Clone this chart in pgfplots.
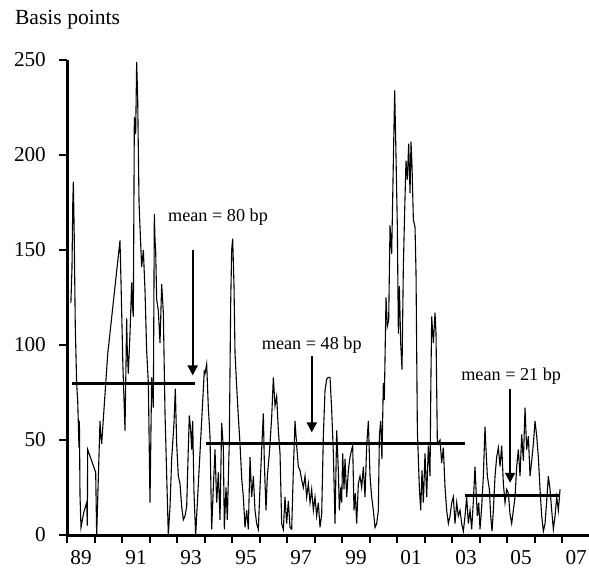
\documentclass[border=0pt]{standalone}
\usepackage{fontspec}
\setmainfont{Liberation Serif}
\usepackage{pgfplots}
\pgfplotsset{compat=1.18}
\usetikzlibrary{arrows.meta}
\begin{document}
\begin{tikzpicture}
\begin{axis}[
 scale only axis, width=260.85pt, height=237.5pt,
 xmin=1989, xmax=2007.97, ymin=0, ymax=250,
 axis lines=left, axis line style={line width=1.5pt,-},
 xtick={1989,1991,...,2007}, minor xtick={1990,1992,...,2006},
 xticklabels={89,91,93,95,97,99,01,03,05,07},
 xticklabel style={xshift=6.875pt},
 ytick={0,50,...,250},
 tick align=outside, major tick length=4pt, minor tick length=4pt,
 every tick/.style={black, line width=1pt},
 ticklabel style={font=\fontsize{10.6}{12}\selectfont},
 yticklabel style={xshift=-3.2pt},
 /pgf/number format/assume math mode=true,
 clip=false,
]
\addplot[black, line width=0.55pt] coordinates {
(1989.13,122) (1989.17,140) (1989.20,175) (1989.22,186) (1989.25,160) (1989.29,110)
(1989.34,80) (1989.38,70) (1989.425,46) (1989.44,60) (1989.462,21) (1989.498,4)
(1989.60,12) (1989.704,17) (1989.728,5) (1989.741,45) (1990.032,33) (1990.068,0)
(1990.189,60) (1990.22,52) (1990.25,48) (1990.468,95) (1990.916,155) (1990.953,133)
(1991.02,90) (1991.098,55) (1991.159,114) (1991.18,98) (1991.219,85) (1991.28,106)
(1991.341,133) (1991.37,120) (1991.401,115) (1991.438,220) (1991.486,211) (1991.522,249)
(1991.559,230) (1991.607,176) (1991.644,162) (1991.704,141) (1991.765,150) (1991.825,129)
(1991.886,97) (1991.947,80) (1992.007,17) (1992.068,83) (1992.128,67) (1992.165,169)
(1992.19,155) (1992.213,150) (1992.25,124) (1992.31,118) (1992.371,101) (1992.432,132)
(1992.492,117) (1992.553,64) (1992.673,0)
(1992.735,15) (1992.795,40) (1992.88,59) (1992.928,77) (1992.977,48) (1993.037,31)
(1993.098,27) (1993.159,15) (1993.219,8) (1993.28,10) (1993.341,15) (1993.401,46)
(1993.437,63) (1993.486,55) (1993.522,45) (1993.559,60) (1993.607,22) (1993.668,0)
(1993.98,86)
(1994.007,85) (1994.068,90) (1994.128,67) (1994.189,52) (1994.25,3) (1994.31,25)
(1994.371,45) (1994.432,17) (1994.492,33) (1994.553,8) (1994.613,59) (1994.674,46)
(1994.71,3) (1994.771,25) (1994.819,8) (1994.892,50) (1994.941,122) (1994.977,150)
(1995.013,156) (1995.062,131) (1995.098,96) (1995.159,78) (1995.22,62) (1995.28,48)
(1995.341,30) (1995.401,20) (1995.462,4) (1995.522,13) (1995.583,3) (1995.644,41)
(1995.704,20) (1995.765,31) (1995.825,13) (1995.886,6) (1995.947,3) (1996.007,25)
(1996.068,45) (1996.128,64) (1996.165,38) (1996.225,13) (1996.274,31) (1996.347,43)
(1996.432,62) (1996.492,83) (1996.553,68) (1996.613,73) (1996.674,55) (1996.735,43)
(1996.795,6) (1996.856,3) (1996.916,20) (1996.977,6) (1997.037,18) (1997.098,4)
(1997.159,3) (1997.219,34) (1997.28,60) (1997.341,47) (1997.401,36) (1997.462,34)
(1997.523,29) (1997.583,25) (1997.644,31) (1997.704,20) (1997.765,27) (1997.826,17)
(1997.886,24) (1997.947,13) (1998.007,20) (1998.068,10) (1998.128,17) (1998.189,4)
(1998.25,11) (1998.31,52) (1998.371,76) (1998.432,82) (1998.492,83) (1998.553,83)
(1998.613,66) (1998.674,43) (1998.735,6) (1998.795,55) (1998.856,34) (1998.892,13)
(1998.941,25) (1998.977,17) (1999.013,43) (1999.062,24) (1999.098,40) (1999.159,20)
(1999.219,34) (1999.28,41) (1999.341,45) (1999.377,47) (1999.425,13) (1999.474,22)
(1999.522,6) (1999.583,27) (1999.644,31) (1999.704,25) (1999.765,36) (1999.825,20)
(1999.886,47) (1999.947,60) (2000.007,31) (2000.068,20) (2000.128,13) (2000.189,4)
(2000.25,6) (2000.31,13) (2000.347,52) (2000.395,60) (2000.44,40) (2000.492,80)
(2000.528,71) (2000.589,125) (2000.637,110) (2000.686,113) (2000.735,163) (2000.795,148)
(2000.856,197) (2000.904,234) (2000.953,199) (2001.001,162) (2001.038,106) (2001.074,131)
(2001.123,101) (2001.171,87) (2001.219,141) (2001.268,171) (2001.316,197) (2001.365,187)
(2001.413,206) (2001.462,180) (2001.498,207) (2001.535,194) (2001.583,166) (2001.644,162)
(2001.68,138) (2001.729,55) (2001.801,25) (2001.85,13) (2001.898,34) (2001.947,17)
(2002.007,43) (2002.068,20) (2002.128,47) (2002.189,31) (2002.22,80) (2002.25,115)
(2002.31,101) (2002.371,117) (2002.407,106) (2002.456,48) (2002.553,50) (2002.613,38)
(2002.674,46) (2002.735,25) (2002.795,13) (2002.856,6) (2002.916,10) (2002.977,17)
(2003.037,20) (2003.098,6) (2003.159,17) (2003.219,10) (2003.28,13)
(2003.341,6) (2003.401,2) (2003.462,10)
(2003.522,20) (2003.583,6) (2003.644,13) (2003.704,3) (2003.765,18) (2003.825,36)
(2003.862,24) (2003.91,10) (2003.959,17) (2004.007,3) (2004.068,15) (2004.128,31)
(2004.189,57) (2004.225,45) (2004.274,31) (2004.347,24) (2004.395,10) (2004.444,2)
(2004.492,13) (2004.553,31) (2004.613,41) (2004.674,46) (2004.735,36) (2004.795,47)
(2004.856,27) (2004.916,17) (2004.977,24) (2005.037,22) (2005.098,11) (2005.159,6)
(2005.219,13) (2005.28,20) (2005.341,36) (2005.401,45) (2005.462,31) (2005.522,53)
(2005.583,39) (2005.644,67) (2005.704,45) (2005.765,52) (2005.826,31) (2005.886,39)
(2005.947,48) (2006.007,60) (2006.068,52) (2006.128,41) (2006.189,24) (2006.25,10)
(2006.31,2) (2006.371,6) (2006.432,18) (2006.492,31) (2006.553,24) (2006.613,13)
(2006.674,3) (2006.735,10) (2006.795,20) (2006.856,13) (2006.917,24)
};
\addplot[black, line width=1.5pt] coordinates {(1989.18,80) (1993.63,80)};
\addplot[black, line width=1.5pt] coordinates {(1994.03,48) (2003.47,48)};
\addplot[black, line width=1.5pt] coordinates {(2003.46,21) (2006.9,21)};
\draw[line width=1.1pt,-{Triangle[width=5pt,length=5pt]}] (axis cs:1993.56,150) -- (axis cs:1993.56,84);
\draw[line width=1.1pt,-{Triangle[width=5pt,length=5pt]}] (axis cs:1997.89,94) -- (axis cs:1997.89,54);
\draw[line width=1.1pt,-{Triangle[width=5pt,length=5pt]}] (axis cs:2005.1,77) -- (axis cs:2005.1,27.5);
\node[font=\fontsize{9.1}{11}\selectfont] at (axis cs:1994.48,167.4) {mean = 80 bp};
\node[font=\fontsize{9.1}{11}\selectfont] at (axis cs:1997.89,100) {mean = 48 bp};
\node[font=\fontsize{9.1}{11}\selectfont] at (axis cs:2005.14,83.7) {mean = 21 bp};
\end{axis}
\node[anchor=base west, font=\fontsize{10.8}{13}\selectfont] at ([shift={(-29.65pt,17.5pt)}]current axis.north west) {Basis points};
\pgfresetboundingbox
\path[use as bounding box] ([shift={(-33.65pt,-16.5pt)}]current axis.south west) rectangle ([shift={(0pt,30pt)}]current axis.north east);
\end{tikzpicture}
\end{document}
